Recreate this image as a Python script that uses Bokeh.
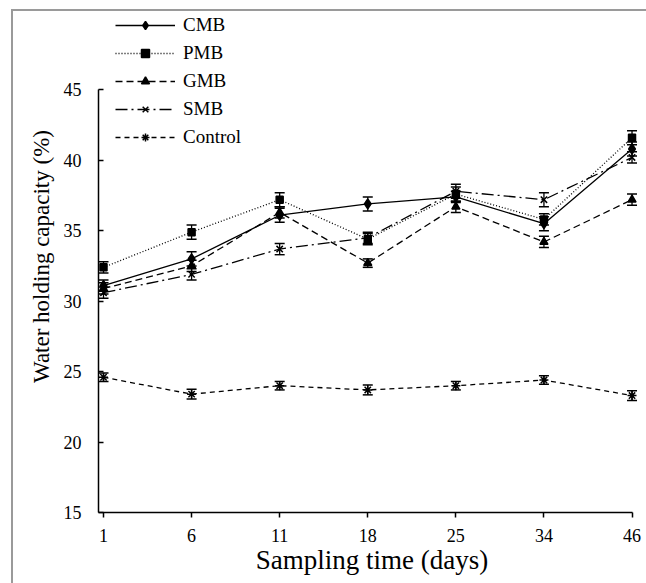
from bokeh.plotting import figure
from bokeh.models import (ColumnDataSource, Whisker, TeeHead, Legend, LegendItem,
                          FixedTicker, Range1d)
from bokeh.embed import file_html
from bokeh.resources import INLINE

# Sampling days (evenly spaced categories on the x axis)
days = ["1", "6", "11", "18", "25", "34", "46"]

# Water holding capacity (%) per treatment, with standard errors
cmb = [31.1, 33.0, 36.1, 36.9, 37.4, 35.5, 40.8]
cmb_err = [0.4, 0.5, 0.5, 0.5, 0.4, 0.5, 0.5]
pmb = [32.4, 34.9, 37.2, 34.4, 37.6, 35.8, 41.6]
pmb_err = [0.4, 0.5, 0.5, 0.4, 0.5, 0.4, 0.5]
gmb = [30.9, 32.5, 36.3, 32.7, 36.7, 34.2, 37.2]
gmb_err = [0.4, 0.4, 0.4, 0.3, 0.4, 0.4, 0.4]
smb = [30.6, 31.9, 33.7, 34.5, 37.8, 37.2, 40.2]
smb_err = [0.4, 0.4, 0.4, 0.4, 0.5, 0.5, 0.4]
control = [24.6, 23.4, 24.0, 23.7, 24.0, 24.4, 23.3]
control_err = [0.3, 0.35, 0.3, 0.35, 0.3, 0.3, 0.35]

y_ticks = [15, 20, 25, 30, 35, 40, 45]

FONT = "Liberation Serif"

series = [
    ("CMB", cmb, cmb_err, "diamond", "solid", 10),
    ("PMB", pmb, pmb_err, "square", "1 2", 7),
    ("GMB", gmb, gmb_err, "triangle", "7 4", 8),
    ("SMB", smb, smb_err, "x", "12 4 2 4", 9),
    ("Control", control, control_err, "asterisk", "5 4", 9),
]

xs = list(range(len(days)))
x_start, x_end = -0.0568, 6.153

p = figure(width=646, height=583, output_backend="svg", toolbar_location=None,
           x_range=Range1d(x_start, x_end), y_range=Range1d(15, 51.34),
           min_border_left=98, min_border_right=1, min_border_top=0,
           min_border_bottom=71,
           background_fill_alpha=0, border_fill_alpha=0)
p.outline_line_color = None
p.grid.visible = False

# grey page frame along the top and left edges, behind the transparent canvas
GREY = "linear-gradient(#9a9a9a, #9a9a9a)"
p.styles = {
    "background-color": "white",
    "background-image": f"{GREY}, {GREY}",
    "background-size": "2px 100%, 100% 2px",
    "background-position": "11px 9px, 11px 9px",
    "background-repeat": "no-repeat",
}

# x axis: evenly spaced sampling days
xa = p.xaxis[0]
xa.ticker = FixedTicker(ticks=xs)
xa.major_label_overrides = {i: d for i, d in enumerate(days)}
xa.bounds = (x_start, len(days) - 1)
xa.minor_tick_line_color = None
xa.major_tick_in = 0
xa.major_tick_out = 5
xa.major_label_standoff = 11
xa.axis_label = "Sampling time (days)"
xa.axis_label_standoff = 0

# y axis limited to the 15-45 span
ya = p.yaxis[0]
ya.ticker = FixedTicker(ticks=y_ticks)
ya.bounds = (15, 45)
ya.minor_tick_line_color = None
ya.major_tick_in = 5
ya.major_tick_out = 0
ya.major_label_standoff = 17
ya.axis_label = "Water holding capacity (%)"
ya.axis_label_standoff = 7

for ax in (xa, ya):
    ax.axis_line_color = "black"
    ax.axis_line_width = 1.5
    ax.major_tick_line_color = "black"
    ax.major_tick_line_width = 1.5
    ax.major_label_text_font = FONT
    ax.major_label_text_font_size = "18px"
    ax.major_label_text_color = "black"
    ax.axis_label_text_font = FONT
    ax.axis_label_text_font_style = "normal"
    ax.axis_label_text_color = "black"
xa.axis_label_text_font_size = "27px"
ya.axis_label_text_font_size = "23px"

items = []
for name, vals, errs, marker, dash, size in series:
    src = ColumnDataSource(dict(
        x=xs, y=vals,
        upper=[v + e for v, e in zip(vals, errs)],
        lower=[v - e for v, e in zip(vals, errs)],
    ))
    line = p.line("x", "y", source=src, line_color="black", line_width=1.3,
                  line_dash=dash)
    pts = p.scatter("x", "y", source=src, marker=marker, size=size,
                    fill_color="black", line_color="black", line_width=1.5)
    p.add_layout(Whisker(source=src, base="x", upper="upper", lower="lower",
                         line_color="black", line_width=1.3,
                         upper_head=TeeHead(size=10, line_color="black", line_width=1.5),
                         lower_head=TeeHead(size=10, line_color="black", line_width=1.5)))
    items.append(LegendItem(label=name, renderers=[line, pts]))

legend = Legend(items=items, location=(17, 364), orientation="vertical",
                glyph_width=60, glyph_height=20, label_height=20, spacing=6,
                padding=0, margin=0, label_standoff=8,
                label_text_font=FONT, label_text_font_size="19px",
                label_text_color="black",
                border_line_color=None, background_fill_alpha=0)
p.add_layout(legend)

open("out.html", "w").write(file_html(p, INLINE))
